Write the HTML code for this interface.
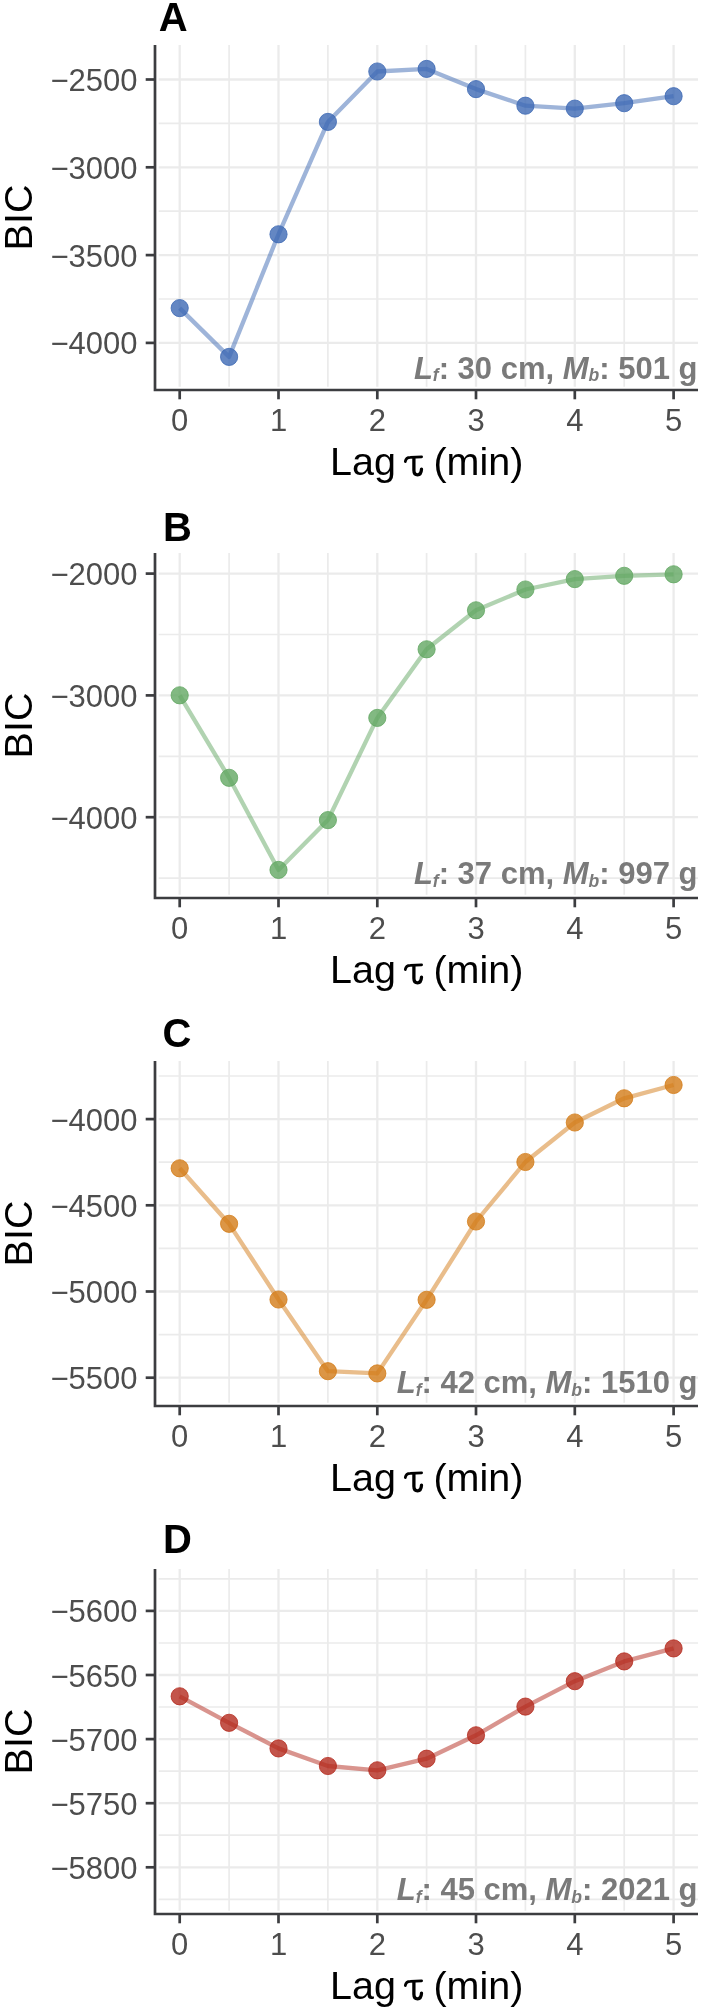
<!DOCTYPE html>
<html><head><meta charset="utf-8"><style>
html,body{margin:0;padding:0;background:#fff;}
svg{display:block;will-change:transform;font-family:"Liberation Sans",sans-serif;}
</style></head><body>
<svg width="702" height="2012" viewBox="0 0 702 2012">
<rect width="702" height="2012" fill="#fff"/>
<g>
<line x1="158.7" x2="698.0" y1="123.4" y2="123.4" stroke="#ebebeb" stroke-width="1.7"/>
<line x1="158.7" x2="698.0" y1="211.2" y2="211.2" stroke="#ebebeb" stroke-width="1.7"/>
<line x1="158.7" x2="698.0" y1="299.0" y2="299.0" stroke="#ebebeb" stroke-width="1.7"/>
<line x1="229.1" x2="229.1" y1="45.0" y2="386.8" stroke="#ebebeb" stroke-width="1.7"/>
<line x1="327.9" x2="327.9" y1="45.0" y2="386.8" stroke="#ebebeb" stroke-width="1.7"/>
<line x1="426.6" x2="426.6" y1="45.0" y2="386.8" stroke="#ebebeb" stroke-width="1.7"/>
<line x1="525.4" x2="525.4" y1="45.0" y2="386.8" stroke="#ebebeb" stroke-width="1.7"/>
<line x1="624.2" x2="624.2" y1="45.0" y2="386.8" stroke="#ebebeb" stroke-width="1.7"/>
<line x1="158.7" x2="698.0" y1="79.5" y2="79.5" stroke="#ebebeb" stroke-width="2.3"/>
<line x1="158.7" x2="698.0" y1="167.3" y2="167.3" stroke="#ebebeb" stroke-width="2.3"/>
<line x1="158.7" x2="698.0" y1="255.1" y2="255.1" stroke="#ebebeb" stroke-width="2.3"/>
<line x1="158.7" x2="698.0" y1="342.9" y2="342.9" stroke="#ebebeb" stroke-width="2.3"/>
<line x1="179.7" x2="179.7" y1="45.0" y2="386.8" stroke="#ebebeb" stroke-width="2.3"/>
<line x1="278.5" x2="278.5" y1="45.0" y2="386.8" stroke="#ebebeb" stroke-width="2.3"/>
<line x1="377.3" x2="377.3" y1="45.0" y2="386.8" stroke="#ebebeb" stroke-width="2.3"/>
<line x1="476.0" x2="476.0" y1="45.0" y2="386.8" stroke="#ebebeb" stroke-width="2.3"/>
<line x1="574.8" x2="574.8" y1="45.0" y2="386.8" stroke="#ebebeb" stroke-width="2.3"/>
<line x1="673.6" x2="673.6" y1="45.0" y2="386.8" stroke="#ebebeb" stroke-width="2.3"/>
<text x="697.5" y="378.9" text-anchor="end" font-size="31" font-weight="bold" fill="#7a7a7a"><tspan font-style="italic">L</tspan><tspan font-style="italic" font-weight="bold" font-size="17.5" dy="2.5">f</tspan><tspan dy="-2.5">: 30 cm, </tspan><tspan font-style="italic">M</tspan><tspan font-style="italic" font-weight="bold" font-size="17.5" dy="2.5">b</tspan><tspan dy="-2.5">: 501 g</tspan></text>
<polyline points="179.7,308.1 229.1,356.9 278.5,234.3 327.9,121.9 377.3,71.5 426.6,68.9 476.0,89.1 525.4,105.7 574.8,108.6 624.2,103.2 673.6,96.2" fill="none" stroke="rgb(61,105,180)" stroke-opacity="0.5" stroke-width="4.3" stroke-linejoin="round" stroke-linecap="butt"/>
<circle cx="179.7" cy="308.1" r="8.6" fill="rgb(61,105,180)" fill-opacity="0.8" stroke="rgb(61,105,180)" stroke-opacity="0.8" stroke-width="1.0"/>
<circle cx="229.1" cy="356.9" r="8.6" fill="rgb(61,105,180)" fill-opacity="0.8" stroke="rgb(61,105,180)" stroke-opacity="0.8" stroke-width="1.0"/>
<circle cx="278.5" cy="234.3" r="8.6" fill="rgb(61,105,180)" fill-opacity="0.8" stroke="rgb(61,105,180)" stroke-opacity="0.8" stroke-width="1.0"/>
<circle cx="327.9" cy="121.9" r="8.6" fill="rgb(61,105,180)" fill-opacity="0.8" stroke="rgb(61,105,180)" stroke-opacity="0.8" stroke-width="1.0"/>
<circle cx="377.3" cy="71.5" r="8.6" fill="rgb(61,105,180)" fill-opacity="0.8" stroke="rgb(61,105,180)" stroke-opacity="0.8" stroke-width="1.0"/>
<circle cx="426.6" cy="68.9" r="8.6" fill="rgb(61,105,180)" fill-opacity="0.8" stroke="rgb(61,105,180)" stroke-opacity="0.8" stroke-width="1.0"/>
<circle cx="476.0" cy="89.1" r="8.6" fill="rgb(61,105,180)" fill-opacity="0.8" stroke="rgb(61,105,180)" stroke-opacity="0.8" stroke-width="1.0"/>
<circle cx="525.4" cy="105.7" r="8.6" fill="rgb(61,105,180)" fill-opacity="0.8" stroke="rgb(61,105,180)" stroke-opacity="0.8" stroke-width="1.0"/>
<circle cx="574.8" cy="108.6" r="8.6" fill="rgb(61,105,180)" fill-opacity="0.8" stroke="rgb(61,105,180)" stroke-opacity="0.8" stroke-width="1.0"/>
<circle cx="624.2" cy="103.2" r="8.6" fill="rgb(61,105,180)" fill-opacity="0.8" stroke="rgb(61,105,180)" stroke-opacity="0.8" stroke-width="1.0"/>
<circle cx="673.6" cy="96.2" r="8.6" fill="rgb(61,105,180)" fill-opacity="0.8" stroke="rgb(61,105,180)" stroke-opacity="0.8" stroke-width="1.0"/>
<path d="M155.0,45.0 V390.0 H698.0" fill="none" stroke="#3c3d40" stroke-width="2.7" stroke-linecap="butt" stroke-linejoin="miter"/>
<line x1="145.7" x2="155.0" y1="79.5" y2="79.5" stroke="#3c3d40" stroke-width="2.7"/>
<text x="137.6" y="91.0" text-anchor="end" font-size="31" fill="#4d4d4d">−2500</text>
<line x1="145.7" x2="155.0" y1="167.3" y2="167.3" stroke="#3c3d40" stroke-width="2.7"/>
<text x="137.6" y="178.8" text-anchor="end" font-size="31" fill="#4d4d4d">−3000</text>
<line x1="145.7" x2="155.0" y1="255.1" y2="255.1" stroke="#3c3d40" stroke-width="2.7"/>
<text x="137.6" y="266.6" text-anchor="end" font-size="31" fill="#4d4d4d">−3500</text>
<line x1="145.7" x2="155.0" y1="342.9" y2="342.9" stroke="#3c3d40" stroke-width="2.7"/>
<text x="137.6" y="354.4" text-anchor="end" font-size="31" fill="#4d4d4d">−4000</text>
<line x1="179.7" x2="179.7" y1="390.0" y2="399.3" stroke="#3c3d40" stroke-width="2.7"/>
<text x="179.7" y="431.0" text-anchor="middle" font-size="31" fill="#4d4d4d">0</text>
<line x1="278.5" x2="278.5" y1="390.0" y2="399.3" stroke="#3c3d40" stroke-width="2.7"/>
<text x="278.5" y="431.0" text-anchor="middle" font-size="31" fill="#4d4d4d">1</text>
<line x1="377.3" x2="377.3" y1="390.0" y2="399.3" stroke="#3c3d40" stroke-width="2.7"/>
<text x="377.3" y="431.0" text-anchor="middle" font-size="31" fill="#4d4d4d">2</text>
<line x1="476.0" x2="476.0" y1="390.0" y2="399.3" stroke="#3c3d40" stroke-width="2.7"/>
<text x="476.0" y="431.0" text-anchor="middle" font-size="31" fill="#4d4d4d">3</text>
<line x1="574.8" x2="574.8" y1="390.0" y2="399.3" stroke="#3c3d40" stroke-width="2.7"/>
<text x="574.8" y="431.0" text-anchor="middle" font-size="31" fill="#4d4d4d">4</text>
<line x1="673.6" x2="673.6" y1="390.0" y2="399.3" stroke="#3c3d40" stroke-width="2.7"/>
<text x="673.6" y="431.0" text-anchor="middle" font-size="31" fill="#4d4d4d">5</text>
<text x="330.1" y="474.9" font-size="39.5" fill="#000">Lag</text>
<text x="433.4" y="474.9" font-size="39.5" fill="#000">(min)</text>
<g transform="translate(0,0)" fill="none" stroke="#000" stroke-linecap="round"><path d="M405.3,461.6 C405.8,458.6 407.4,457.4 410.3,457.4 L421.6,456.9" stroke-width="2.8"/><path d="M413.9,457.6 L413.9,470.2 C413.9,473.6 415.3,474.8 417.6,474.8 C420.0,474.8 421.3,472.6 421.5,469.2" stroke-width="3.3"/></g>
<text transform="translate(32.2,217.5) rotate(-90)" x="0" y="0" text-anchor="middle" font-size="39.5" fill="#000">BIC</text>
<text x="158.7" y="31.3" font-size="40" font-weight="bold" fill="#000">A</text>
</g>
<g>
<line x1="158.7" x2="698.0" y1="634.5" y2="634.5" stroke="#ebebeb" stroke-width="1.7"/>
<line x1="158.7" x2="698.0" y1="756.3" y2="756.3" stroke="#ebebeb" stroke-width="1.7"/>
<line x1="158.7" x2="698.0" y1="878.1" y2="878.1" stroke="#ebebeb" stroke-width="1.7"/>
<line x1="229.1" x2="229.1" y1="553.0" y2="894.8" stroke="#ebebeb" stroke-width="1.7"/>
<line x1="327.9" x2="327.9" y1="553.0" y2="894.8" stroke="#ebebeb" stroke-width="1.7"/>
<line x1="426.6" x2="426.6" y1="553.0" y2="894.8" stroke="#ebebeb" stroke-width="1.7"/>
<line x1="525.4" x2="525.4" y1="553.0" y2="894.8" stroke="#ebebeb" stroke-width="1.7"/>
<line x1="624.2" x2="624.2" y1="553.0" y2="894.8" stroke="#ebebeb" stroke-width="1.7"/>
<line x1="158.7" x2="698.0" y1="573.6" y2="573.6" stroke="#ebebeb" stroke-width="2.3"/>
<line x1="158.7" x2="698.0" y1="695.4" y2="695.4" stroke="#ebebeb" stroke-width="2.3"/>
<line x1="158.7" x2="698.0" y1="817.2" y2="817.2" stroke="#ebebeb" stroke-width="2.3"/>
<line x1="179.7" x2="179.7" y1="553.0" y2="894.8" stroke="#ebebeb" stroke-width="2.3"/>
<line x1="278.5" x2="278.5" y1="553.0" y2="894.8" stroke="#ebebeb" stroke-width="2.3"/>
<line x1="377.3" x2="377.3" y1="553.0" y2="894.8" stroke="#ebebeb" stroke-width="2.3"/>
<line x1="476.0" x2="476.0" y1="553.0" y2="894.8" stroke="#ebebeb" stroke-width="2.3"/>
<line x1="574.8" x2="574.8" y1="553.0" y2="894.8" stroke="#ebebeb" stroke-width="2.3"/>
<line x1="673.6" x2="673.6" y1="553.0" y2="894.8" stroke="#ebebeb" stroke-width="2.3"/>
<text x="697.5" y="884.0" text-anchor="end" font-size="31" font-weight="bold" fill="#7a7a7a"><tspan font-style="italic">L</tspan><tspan font-style="italic" font-weight="bold" font-size="17.5" dy="2.5">f</tspan><tspan dy="-2.5">: 37 cm, </tspan><tspan font-style="italic">M</tspan><tspan font-style="italic" font-weight="bold" font-size="17.5" dy="2.5">b</tspan><tspan dy="-2.5">: 997 g</tspan></text>
<polyline points="179.7,695.3 229.1,777.8 278.5,869.9 327.9,820.1 377.3,717.9 426.6,649.3 476.0,610.3 525.4,589.5 574.8,579.1 624.2,575.8 673.6,574.3" fill="none" stroke="rgb(99,167,99)" stroke-opacity="0.5" stroke-width="4.3" stroke-linejoin="round" stroke-linecap="butt"/>
<circle cx="179.7" cy="695.3" r="8.6" fill="rgb(99,167,99)" fill-opacity="0.8" stroke="rgb(99,167,99)" stroke-opacity="0.8" stroke-width="1.0"/>
<circle cx="229.1" cy="777.8" r="8.6" fill="rgb(99,167,99)" fill-opacity="0.8" stroke="rgb(99,167,99)" stroke-opacity="0.8" stroke-width="1.0"/>
<circle cx="278.5" cy="869.9" r="8.6" fill="rgb(99,167,99)" fill-opacity="0.8" stroke="rgb(99,167,99)" stroke-opacity="0.8" stroke-width="1.0"/>
<circle cx="327.9" cy="820.1" r="8.6" fill="rgb(99,167,99)" fill-opacity="0.8" stroke="rgb(99,167,99)" stroke-opacity="0.8" stroke-width="1.0"/>
<circle cx="377.3" cy="717.9" r="8.6" fill="rgb(99,167,99)" fill-opacity="0.8" stroke="rgb(99,167,99)" stroke-opacity="0.8" stroke-width="1.0"/>
<circle cx="426.6" cy="649.3" r="8.6" fill="rgb(99,167,99)" fill-opacity="0.8" stroke="rgb(99,167,99)" stroke-opacity="0.8" stroke-width="1.0"/>
<circle cx="476.0" cy="610.3" r="8.6" fill="rgb(99,167,99)" fill-opacity="0.8" stroke="rgb(99,167,99)" stroke-opacity="0.8" stroke-width="1.0"/>
<circle cx="525.4" cy="589.5" r="8.6" fill="rgb(99,167,99)" fill-opacity="0.8" stroke="rgb(99,167,99)" stroke-opacity="0.8" stroke-width="1.0"/>
<circle cx="574.8" cy="579.1" r="8.6" fill="rgb(99,167,99)" fill-opacity="0.8" stroke="rgb(99,167,99)" stroke-opacity="0.8" stroke-width="1.0"/>
<circle cx="624.2" cy="575.8" r="8.6" fill="rgb(99,167,99)" fill-opacity="0.8" stroke="rgb(99,167,99)" stroke-opacity="0.8" stroke-width="1.0"/>
<circle cx="673.6" cy="574.3" r="8.6" fill="rgb(99,167,99)" fill-opacity="0.8" stroke="rgb(99,167,99)" stroke-opacity="0.8" stroke-width="1.0"/>
<path d="M155.0,553.0 V898.0 H698.0" fill="none" stroke="#3c3d40" stroke-width="2.7" stroke-linecap="butt" stroke-linejoin="miter"/>
<line x1="145.7" x2="155.0" y1="573.6" y2="573.6" stroke="#3c3d40" stroke-width="2.7"/>
<text x="137.6" y="585.1" text-anchor="end" font-size="31" fill="#4d4d4d">−2000</text>
<line x1="145.7" x2="155.0" y1="695.4" y2="695.4" stroke="#3c3d40" stroke-width="2.7"/>
<text x="137.6" y="706.9" text-anchor="end" font-size="31" fill="#4d4d4d">−3000</text>
<line x1="145.7" x2="155.0" y1="817.2" y2="817.2" stroke="#3c3d40" stroke-width="2.7"/>
<text x="137.6" y="828.7" text-anchor="end" font-size="31" fill="#4d4d4d">−4000</text>
<line x1="179.7" x2="179.7" y1="898.0" y2="907.3" stroke="#3c3d40" stroke-width="2.7"/>
<text x="179.7" y="939.0" text-anchor="middle" font-size="31" fill="#4d4d4d">0</text>
<line x1="278.5" x2="278.5" y1="898.0" y2="907.3" stroke="#3c3d40" stroke-width="2.7"/>
<text x="278.5" y="939.0" text-anchor="middle" font-size="31" fill="#4d4d4d">1</text>
<line x1="377.3" x2="377.3" y1="898.0" y2="907.3" stroke="#3c3d40" stroke-width="2.7"/>
<text x="377.3" y="939.0" text-anchor="middle" font-size="31" fill="#4d4d4d">2</text>
<line x1="476.0" x2="476.0" y1="898.0" y2="907.3" stroke="#3c3d40" stroke-width="2.7"/>
<text x="476.0" y="939.0" text-anchor="middle" font-size="31" fill="#4d4d4d">3</text>
<line x1="574.8" x2="574.8" y1="898.0" y2="907.3" stroke="#3c3d40" stroke-width="2.7"/>
<text x="574.8" y="939.0" text-anchor="middle" font-size="31" fill="#4d4d4d">4</text>
<line x1="673.6" x2="673.6" y1="898.0" y2="907.3" stroke="#3c3d40" stroke-width="2.7"/>
<text x="673.6" y="939.0" text-anchor="middle" font-size="31" fill="#4d4d4d">5</text>
<text x="330.1" y="982.9" font-size="39.5" fill="#000">Lag</text>
<text x="433.4" y="982.9" font-size="39.5" fill="#000">(min)</text>
<g transform="translate(0,508)" fill="none" stroke="#000" stroke-linecap="round"><path d="M405.3,461.6 C405.8,458.6 407.4,457.4 410.3,457.4 L421.6,456.9" stroke-width="2.8"/><path d="M413.9,457.6 L413.9,470.2 C413.9,473.6 415.3,474.8 417.6,474.8 C420.0,474.8 421.3,472.6 421.5,469.2" stroke-width="3.3"/></g>
<text transform="translate(32.2,725.5) rotate(-90)" x="0" y="0" text-anchor="middle" font-size="39.5" fill="#000">BIC</text>
<text x="163.1" y="540.5" font-size="40" font-weight="bold" fill="#000">B</text>
</g>
<g>
<line x1="158.7" x2="698.0" y1="1076.0" y2="1076.0" stroke="#ebebeb" stroke-width="1.7"/>
<line x1="158.7" x2="698.0" y1="1162.2" y2="1162.2" stroke="#ebebeb" stroke-width="1.7"/>
<line x1="158.7" x2="698.0" y1="1248.4" y2="1248.4" stroke="#ebebeb" stroke-width="1.7"/>
<line x1="158.7" x2="698.0" y1="1334.6" y2="1334.6" stroke="#ebebeb" stroke-width="1.7"/>
<line x1="229.1" x2="229.1" y1="1061.0" y2="1402.8" stroke="#ebebeb" stroke-width="1.7"/>
<line x1="327.9" x2="327.9" y1="1061.0" y2="1402.8" stroke="#ebebeb" stroke-width="1.7"/>
<line x1="426.6" x2="426.6" y1="1061.0" y2="1402.8" stroke="#ebebeb" stroke-width="1.7"/>
<line x1="525.4" x2="525.4" y1="1061.0" y2="1402.8" stroke="#ebebeb" stroke-width="1.7"/>
<line x1="624.2" x2="624.2" y1="1061.0" y2="1402.8" stroke="#ebebeb" stroke-width="1.7"/>
<line x1="158.7" x2="698.0" y1="1119.1" y2="1119.1" stroke="#ebebeb" stroke-width="2.3"/>
<line x1="158.7" x2="698.0" y1="1205.3" y2="1205.3" stroke="#ebebeb" stroke-width="2.3"/>
<line x1="158.7" x2="698.0" y1="1291.5" y2="1291.5" stroke="#ebebeb" stroke-width="2.3"/>
<line x1="158.7" x2="698.0" y1="1377.7" y2="1377.7" stroke="#ebebeb" stroke-width="2.3"/>
<line x1="179.7" x2="179.7" y1="1061.0" y2="1402.8" stroke="#ebebeb" stroke-width="2.3"/>
<line x1="278.5" x2="278.5" y1="1061.0" y2="1402.8" stroke="#ebebeb" stroke-width="2.3"/>
<line x1="377.3" x2="377.3" y1="1061.0" y2="1402.8" stroke="#ebebeb" stroke-width="2.3"/>
<line x1="476.0" x2="476.0" y1="1061.0" y2="1402.8" stroke="#ebebeb" stroke-width="2.3"/>
<line x1="574.8" x2="574.8" y1="1061.0" y2="1402.8" stroke="#ebebeb" stroke-width="2.3"/>
<line x1="673.6" x2="673.6" y1="1061.0" y2="1402.8" stroke="#ebebeb" stroke-width="2.3"/>
<text x="697.5" y="1393.4" text-anchor="end" font-size="31" font-weight="bold" fill="#7a7a7a"><tspan font-style="italic">L</tspan><tspan font-style="italic" font-weight="bold" font-size="17.5" dy="2.5">f</tspan><tspan dy="-2.5">: 42 cm, </tspan><tspan font-style="italic">M</tspan><tspan font-style="italic" font-weight="bold" font-size="17.5" dy="2.5">b</tspan><tspan dy="-2.5">: 1510 g</tspan></text>
<polyline points="179.7,1168.3 229.1,1223.8 278.5,1299.5 327.9,1371.2 377.3,1373.4 426.6,1299.8 476.0,1221.5 525.4,1162.0 574.8,1122.5 624.2,1098.3 673.6,1085.0" fill="none" stroke="rgb(211,124,24)" stroke-opacity="0.5" stroke-width="4.3" stroke-linejoin="round" stroke-linecap="butt"/>
<circle cx="179.7" cy="1168.3" r="8.6" fill="rgb(211,124,24)" fill-opacity="0.8" stroke="rgb(211,124,24)" stroke-opacity="0.8" stroke-width="1.0"/>
<circle cx="229.1" cy="1223.8" r="8.6" fill="rgb(211,124,24)" fill-opacity="0.8" stroke="rgb(211,124,24)" stroke-opacity="0.8" stroke-width="1.0"/>
<circle cx="278.5" cy="1299.5" r="8.6" fill="rgb(211,124,24)" fill-opacity="0.8" stroke="rgb(211,124,24)" stroke-opacity="0.8" stroke-width="1.0"/>
<circle cx="327.9" cy="1371.2" r="8.6" fill="rgb(211,124,24)" fill-opacity="0.8" stroke="rgb(211,124,24)" stroke-opacity="0.8" stroke-width="1.0"/>
<circle cx="377.3" cy="1373.4" r="8.6" fill="rgb(211,124,24)" fill-opacity="0.8" stroke="rgb(211,124,24)" stroke-opacity="0.8" stroke-width="1.0"/>
<circle cx="426.6" cy="1299.8" r="8.6" fill="rgb(211,124,24)" fill-opacity="0.8" stroke="rgb(211,124,24)" stroke-opacity="0.8" stroke-width="1.0"/>
<circle cx="476.0" cy="1221.5" r="8.6" fill="rgb(211,124,24)" fill-opacity="0.8" stroke="rgb(211,124,24)" stroke-opacity="0.8" stroke-width="1.0"/>
<circle cx="525.4" cy="1162.0" r="8.6" fill="rgb(211,124,24)" fill-opacity="0.8" stroke="rgb(211,124,24)" stroke-opacity="0.8" stroke-width="1.0"/>
<circle cx="574.8" cy="1122.5" r="8.6" fill="rgb(211,124,24)" fill-opacity="0.8" stroke="rgb(211,124,24)" stroke-opacity="0.8" stroke-width="1.0"/>
<circle cx="624.2" cy="1098.3" r="8.6" fill="rgb(211,124,24)" fill-opacity="0.8" stroke="rgb(211,124,24)" stroke-opacity="0.8" stroke-width="1.0"/>
<circle cx="673.6" cy="1085.0" r="8.6" fill="rgb(211,124,24)" fill-opacity="0.8" stroke="rgb(211,124,24)" stroke-opacity="0.8" stroke-width="1.0"/>
<path d="M155.0,1061.0 V1406.0 H698.0" fill="none" stroke="#3c3d40" stroke-width="2.7" stroke-linecap="butt" stroke-linejoin="miter"/>
<line x1="145.7" x2="155.0" y1="1119.1" y2="1119.1" stroke="#3c3d40" stroke-width="2.7"/>
<text x="137.6" y="1130.6" text-anchor="end" font-size="31" fill="#4d4d4d">−4000</text>
<line x1="145.7" x2="155.0" y1="1205.3" y2="1205.3" stroke="#3c3d40" stroke-width="2.7"/>
<text x="137.6" y="1216.8" text-anchor="end" font-size="31" fill="#4d4d4d">−4500</text>
<line x1="145.7" x2="155.0" y1="1291.5" y2="1291.5" stroke="#3c3d40" stroke-width="2.7"/>
<text x="137.6" y="1303.0" text-anchor="end" font-size="31" fill="#4d4d4d">−5000</text>
<line x1="145.7" x2="155.0" y1="1377.7" y2="1377.7" stroke="#3c3d40" stroke-width="2.7"/>
<text x="137.6" y="1389.2" text-anchor="end" font-size="31" fill="#4d4d4d">−5500</text>
<line x1="179.7" x2="179.7" y1="1406.0" y2="1415.3" stroke="#3c3d40" stroke-width="2.7"/>
<text x="179.7" y="1447.0" text-anchor="middle" font-size="31" fill="#4d4d4d">0</text>
<line x1="278.5" x2="278.5" y1="1406.0" y2="1415.3" stroke="#3c3d40" stroke-width="2.7"/>
<text x="278.5" y="1447.0" text-anchor="middle" font-size="31" fill="#4d4d4d">1</text>
<line x1="377.3" x2="377.3" y1="1406.0" y2="1415.3" stroke="#3c3d40" stroke-width="2.7"/>
<text x="377.3" y="1447.0" text-anchor="middle" font-size="31" fill="#4d4d4d">2</text>
<line x1="476.0" x2="476.0" y1="1406.0" y2="1415.3" stroke="#3c3d40" stroke-width="2.7"/>
<text x="476.0" y="1447.0" text-anchor="middle" font-size="31" fill="#4d4d4d">3</text>
<line x1="574.8" x2="574.8" y1="1406.0" y2="1415.3" stroke="#3c3d40" stroke-width="2.7"/>
<text x="574.8" y="1447.0" text-anchor="middle" font-size="31" fill="#4d4d4d">4</text>
<line x1="673.6" x2="673.6" y1="1406.0" y2="1415.3" stroke="#3c3d40" stroke-width="2.7"/>
<text x="673.6" y="1447.0" text-anchor="middle" font-size="31" fill="#4d4d4d">5</text>
<text x="330.1" y="1490.9" font-size="39.5" fill="#000">Lag</text>
<text x="433.4" y="1490.9" font-size="39.5" fill="#000">(min)</text>
<g transform="translate(0,1016)" fill="none" stroke="#000" stroke-linecap="round"><path d="M405.3,461.6 C405.8,458.6 407.4,457.4 410.3,457.4 L421.6,456.9" stroke-width="2.8"/><path d="M413.9,457.6 L413.9,470.2 C413.9,473.6 415.3,474.8 417.6,474.8 C420.0,474.8 421.3,472.6 421.5,469.2" stroke-width="3.3"/></g>
<text transform="translate(32.2,1233.5) rotate(-90)" x="0" y="0" text-anchor="middle" font-size="39.5" fill="#000">BIC</text>
<text x="162.6" y="1046.6" font-size="40" font-weight="bold" fill="#000">C</text>
</g>
<g>
<line x1="158.7" x2="698.0" y1="1578.8" y2="1578.8" stroke="#ebebeb" stroke-width="1.7"/>
<line x1="158.7" x2="698.0" y1="1643.0" y2="1643.0" stroke="#ebebeb" stroke-width="1.7"/>
<line x1="158.7" x2="698.0" y1="1707.0" y2="1707.0" stroke="#ebebeb" stroke-width="1.7"/>
<line x1="158.7" x2="698.0" y1="1771.2" y2="1771.2" stroke="#ebebeb" stroke-width="1.7"/>
<line x1="158.7" x2="698.0" y1="1835.2" y2="1835.2" stroke="#ebebeb" stroke-width="1.7"/>
<line x1="158.7" x2="698.0" y1="1899.3" y2="1899.3" stroke="#ebebeb" stroke-width="1.7"/>
<line x1="229.1" x2="229.1" y1="1569.0" y2="1910.8" stroke="#ebebeb" stroke-width="1.7"/>
<line x1="327.9" x2="327.9" y1="1569.0" y2="1910.8" stroke="#ebebeb" stroke-width="1.7"/>
<line x1="426.6" x2="426.6" y1="1569.0" y2="1910.8" stroke="#ebebeb" stroke-width="1.7"/>
<line x1="525.4" x2="525.4" y1="1569.0" y2="1910.8" stroke="#ebebeb" stroke-width="1.7"/>
<line x1="624.2" x2="624.2" y1="1569.0" y2="1910.8" stroke="#ebebeb" stroke-width="1.7"/>
<line x1="158.7" x2="698.0" y1="1610.9" y2="1610.9" stroke="#ebebeb" stroke-width="2.3"/>
<line x1="158.7" x2="698.0" y1="1675.0" y2="1675.0" stroke="#ebebeb" stroke-width="2.3"/>
<line x1="158.7" x2="698.0" y1="1739.1" y2="1739.1" stroke="#ebebeb" stroke-width="2.3"/>
<line x1="158.7" x2="698.0" y1="1803.2" y2="1803.2" stroke="#ebebeb" stroke-width="2.3"/>
<line x1="158.7" x2="698.0" y1="1867.3" y2="1867.3" stroke="#ebebeb" stroke-width="2.3"/>
<line x1="179.7" x2="179.7" y1="1569.0" y2="1910.8" stroke="#ebebeb" stroke-width="2.3"/>
<line x1="278.5" x2="278.5" y1="1569.0" y2="1910.8" stroke="#ebebeb" stroke-width="2.3"/>
<line x1="377.3" x2="377.3" y1="1569.0" y2="1910.8" stroke="#ebebeb" stroke-width="2.3"/>
<line x1="476.0" x2="476.0" y1="1569.0" y2="1910.8" stroke="#ebebeb" stroke-width="2.3"/>
<line x1="574.8" x2="574.8" y1="1569.0" y2="1910.8" stroke="#ebebeb" stroke-width="2.3"/>
<line x1="673.6" x2="673.6" y1="1569.0" y2="1910.8" stroke="#ebebeb" stroke-width="2.3"/>
<text x="697.5" y="1900.2" text-anchor="end" font-size="31" font-weight="bold" fill="#7a7a7a"><tspan font-style="italic">L</tspan><tspan font-style="italic" font-weight="bold" font-size="17.5" dy="2.5">f</tspan><tspan dy="-2.5">: 45 cm, </tspan><tspan font-style="italic">M</tspan><tspan font-style="italic" font-weight="bold" font-size="17.5" dy="2.5">b</tspan><tspan dy="-2.5">: 2021 g</tspan></text>
<polyline points="179.7,1696.3 229.1,1722.8 278.5,1748.4 327.9,1766.0 377.3,1770.3 426.6,1758.7 476.0,1735.3 525.4,1706.6 574.8,1681.2 624.2,1661.4 673.6,1648.4" fill="none" stroke="rgb(180,42,30)" stroke-opacity="0.5" stroke-width="4.3" stroke-linejoin="round" stroke-linecap="butt"/>
<circle cx="179.7" cy="1696.3" r="8.6" fill="rgb(180,42,30)" fill-opacity="0.8" stroke="rgb(180,42,30)" stroke-opacity="0.8" stroke-width="1.0"/>
<circle cx="229.1" cy="1722.8" r="8.6" fill="rgb(180,42,30)" fill-opacity="0.8" stroke="rgb(180,42,30)" stroke-opacity="0.8" stroke-width="1.0"/>
<circle cx="278.5" cy="1748.4" r="8.6" fill="rgb(180,42,30)" fill-opacity="0.8" stroke="rgb(180,42,30)" stroke-opacity="0.8" stroke-width="1.0"/>
<circle cx="327.9" cy="1766.0" r="8.6" fill="rgb(180,42,30)" fill-opacity="0.8" stroke="rgb(180,42,30)" stroke-opacity="0.8" stroke-width="1.0"/>
<circle cx="377.3" cy="1770.3" r="8.6" fill="rgb(180,42,30)" fill-opacity="0.8" stroke="rgb(180,42,30)" stroke-opacity="0.8" stroke-width="1.0"/>
<circle cx="426.6" cy="1758.7" r="8.6" fill="rgb(180,42,30)" fill-opacity="0.8" stroke="rgb(180,42,30)" stroke-opacity="0.8" stroke-width="1.0"/>
<circle cx="476.0" cy="1735.3" r="8.6" fill="rgb(180,42,30)" fill-opacity="0.8" stroke="rgb(180,42,30)" stroke-opacity="0.8" stroke-width="1.0"/>
<circle cx="525.4" cy="1706.6" r="8.6" fill="rgb(180,42,30)" fill-opacity="0.8" stroke="rgb(180,42,30)" stroke-opacity="0.8" stroke-width="1.0"/>
<circle cx="574.8" cy="1681.2" r="8.6" fill="rgb(180,42,30)" fill-opacity="0.8" stroke="rgb(180,42,30)" stroke-opacity="0.8" stroke-width="1.0"/>
<circle cx="624.2" cy="1661.4" r="8.6" fill="rgb(180,42,30)" fill-opacity="0.8" stroke="rgb(180,42,30)" stroke-opacity="0.8" stroke-width="1.0"/>
<circle cx="673.6" cy="1648.4" r="8.6" fill="rgb(180,42,30)" fill-opacity="0.8" stroke="rgb(180,42,30)" stroke-opacity="0.8" stroke-width="1.0"/>
<path d="M155.0,1569.0 V1914.0 H698.0" fill="none" stroke="#3c3d40" stroke-width="2.7" stroke-linecap="butt" stroke-linejoin="miter"/>
<line x1="145.7" x2="155.0" y1="1610.9" y2="1610.9" stroke="#3c3d40" stroke-width="2.7"/>
<text x="137.6" y="1622.4" text-anchor="end" font-size="31" fill="#4d4d4d">−5600</text>
<line x1="145.7" x2="155.0" y1="1675.0" y2="1675.0" stroke="#3c3d40" stroke-width="2.7"/>
<text x="137.6" y="1686.5" text-anchor="end" font-size="31" fill="#4d4d4d">−5650</text>
<line x1="145.7" x2="155.0" y1="1739.1" y2="1739.1" stroke="#3c3d40" stroke-width="2.7"/>
<text x="137.6" y="1750.6" text-anchor="end" font-size="31" fill="#4d4d4d">−5700</text>
<line x1="145.7" x2="155.0" y1="1803.2" y2="1803.2" stroke="#3c3d40" stroke-width="2.7"/>
<text x="137.6" y="1814.7" text-anchor="end" font-size="31" fill="#4d4d4d">−5750</text>
<line x1="145.7" x2="155.0" y1="1867.3" y2="1867.3" stroke="#3c3d40" stroke-width="2.7"/>
<text x="137.6" y="1878.8" text-anchor="end" font-size="31" fill="#4d4d4d">−5800</text>
<line x1="179.7" x2="179.7" y1="1914.0" y2="1923.3" stroke="#3c3d40" stroke-width="2.7"/>
<text x="179.7" y="1955.0" text-anchor="middle" font-size="31" fill="#4d4d4d">0</text>
<line x1="278.5" x2="278.5" y1="1914.0" y2="1923.3" stroke="#3c3d40" stroke-width="2.7"/>
<text x="278.5" y="1955.0" text-anchor="middle" font-size="31" fill="#4d4d4d">1</text>
<line x1="377.3" x2="377.3" y1="1914.0" y2="1923.3" stroke="#3c3d40" stroke-width="2.7"/>
<text x="377.3" y="1955.0" text-anchor="middle" font-size="31" fill="#4d4d4d">2</text>
<line x1="476.0" x2="476.0" y1="1914.0" y2="1923.3" stroke="#3c3d40" stroke-width="2.7"/>
<text x="476.0" y="1955.0" text-anchor="middle" font-size="31" fill="#4d4d4d">3</text>
<line x1="574.8" x2="574.8" y1="1914.0" y2="1923.3" stroke="#3c3d40" stroke-width="2.7"/>
<text x="574.8" y="1955.0" text-anchor="middle" font-size="31" fill="#4d4d4d">4</text>
<line x1="673.6" x2="673.6" y1="1914.0" y2="1923.3" stroke="#3c3d40" stroke-width="2.7"/>
<text x="673.6" y="1955.0" text-anchor="middle" font-size="31" fill="#4d4d4d">5</text>
<text x="330.1" y="1998.9" font-size="39.5" fill="#000">Lag</text>
<text x="433.4" y="1998.9" font-size="39.5" fill="#000">(min)</text>
<g transform="translate(0,1524)" fill="none" stroke="#000" stroke-linecap="round"><path d="M405.3,461.6 C405.8,458.6 407.4,457.4 410.3,457.4 L421.6,456.9" stroke-width="2.8"/><path d="M413.9,457.6 L413.9,470.2 C413.9,473.6 415.3,474.8 417.6,474.8 C420.0,474.8 421.3,472.6 421.5,469.2" stroke-width="3.3"/></g>
<text transform="translate(32.2,1741.5) rotate(-90)" x="0" y="0" text-anchor="middle" font-size="39.5" fill="#000">BIC</text>
<text x="163.1" y="1552.5" font-size="40" font-weight="bold" fill="#000">D</text>
</g>
</svg>
</body></html>
